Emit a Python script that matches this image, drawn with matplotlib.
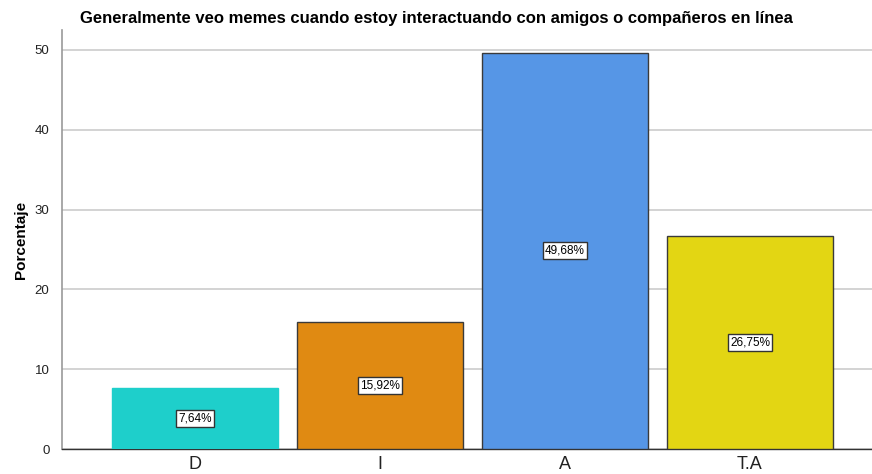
import numpy as np
import matplotlib
matplotlib.use('Agg')
import matplotlib.pyplot as plt

categories = ['D', 'I', 'A', 'T.A']
percentages = [7.64, 15.92, 49.68, 26.75]
labels = ['7,64%', '15,92%', '49,68%', '26,75%']
bar_colors = ['#1ECFCB', '#E08A12', '#5696E6', '#E3D613']
edge_colors = ['#1ECFCB', '#3a3a3a', '#3a3a3a', '#3a3a3a']
yticks = [0, 10, 20, 30, 40, 50]

plt.rcParams['font.family'] = ['Liberation Sans', 'DejaVu Sans']

fig = plt.figure(figsize=(8.72, 4.74), dpi=100)
ax = fig.add_axes([0.0711, 0.0527, 0.9289, 0.884])

x = np.arange(len(categories))
ax.bar(x, percentages, width=0.897, color=bar_colors, edgecolor=edge_colors,
       linewidth=1.0, zorder=3)

for i in range(len(categories)):
    ax.text(x[i], percentages[i] / 2, labels[i], ha='center', va='center',
            fontsize=8.5, zorder=4,
            bbox=dict(boxstyle='square,pad=0.2', facecolor='white',
                      edgecolor='#333333', linewidth=1.0))

ax.set_xlim(-0.72, 3.66)
ax.set_ylim(0, 52.5)
ax.set_yticks(yticks)
ax.set_xticks(x)
ax.set_xticklabels(categories, fontsize=13, color='#222222')
ax.tick_params(axis='y', length=0, labelsize=9.5, pad=9, labelcolor='#222222')
ax.tick_params(axis='x', length=0, pad=5)
ax.yaxis.grid(True, color='#cccccc', linewidth=1.2, zorder=0)
ax.set_axisbelow(True)

ax.spines['top'].set_visible(False)
ax.spines['right'].set_visible(False)
ax.spines['left'].set_color('#999999')
ax.spines['left'].set_linewidth(1.2)
ax.spines['bottom'].set_color('#333333')
ax.spines['bottom'].set_linewidth(1.0)

ax.set_ylabel('Porcentaje', fontsize=11, fontweight='bold')
ax.yaxis.set_label_coords(-0.042, 0.5)
fig.text(0.5, 0.962,
         'Generalmente veo memes cuando estoy interactuando con amigos o compañeros en línea',
         ha='center', va='center', fontsize=12, fontweight='bold')

fig.savefig('out.png', dpi=100)
